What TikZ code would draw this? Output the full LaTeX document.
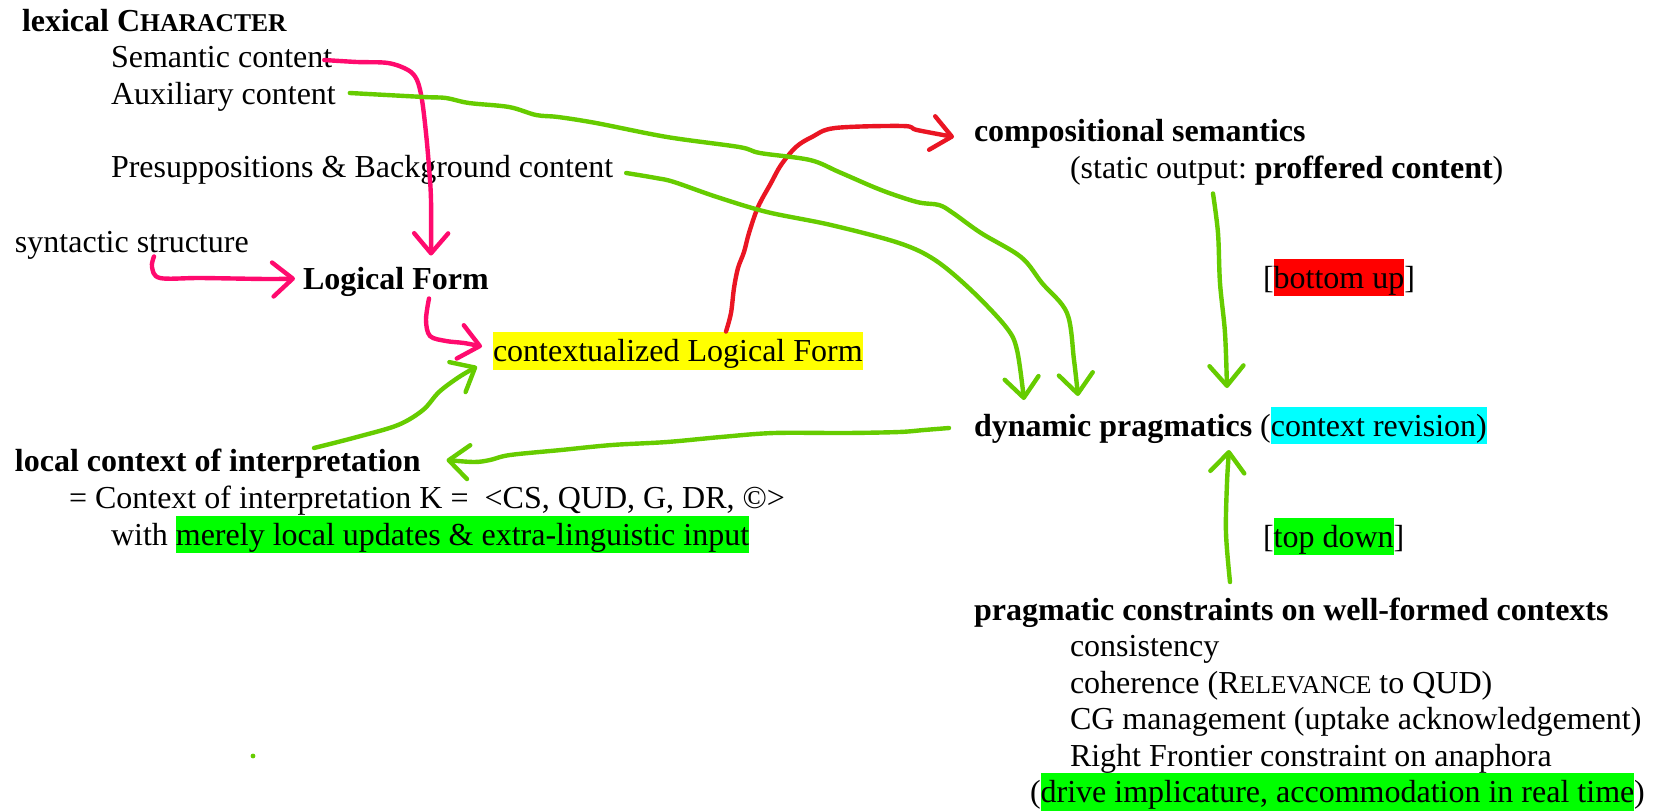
\documentclass[tikz,border=0pt]{standalone}
\usepackage{fontspec}
\setmainfont{Liberation Serif}
\usetikzlibrary{arrows.meta}
\definecolor{pinkc}{HTML}{FF0A6E}
\definecolor{redc}{HTML}{EA1523}
\definecolor{grnc}{HTML}{66CC00}
\definecolor{hlyellow}{HTML}{FFFF00}
\definecolor{hlgreen}{HTML}{00FF00}
\definecolor{hlcyan}{HTML}{00FFFF}
\definecolor{hlred}{HTML}{FF0000}
\newcommand\hlbox[2]{{\setlength{\fboxsep}{0pt}\colorbox{#1}{\rule[-0.25em]{0pt}{1.17em}#2}}}
\newcommand\smc[1]{{\fontsize{12.8pt}{14pt}\selectfont #1}}
\frenchspacing
\begin{document}
\begin{tikzpicture}[x=0.5pt,y=-0.5pt,
  lbl/.style={inner sep=0pt,outer sep=0pt,anchor=base west,font=\fontsize{16pt}{18.4pt}\selectfont},
  bld/.style={lbl,font=\fontsize{16pt}{18.4pt}\selectfont\bfseries},
  conn/.style={line width=2.2pt,line cap=round,line join=round,-{Straight Barb[length=10pt,width=17pt,round]}},
  pinkline/.style={conn,draw=pinkc},
  redline/.style={conn,draw=redc},
  grnline/.style={conn,draw=grnc}]
\fill[white] (0,0) rectangle (1656,810);
\useasboundingbox (0,0) rectangle (1656,810);

% left column
\node[bld] (lex) at (22,31) {lexical C\smc{HARACTER}};
\node[lbl] (sem) at (111,67) {Semantic content};
\node[lbl] (aux) at (111,104) {Auxiliary content};
\node[lbl] (pre) at (111,177) {Presuppositions \& Background content};
\node[lbl] (syn) at (15,252.5) {syntactic structure};
\node[bld] (lf) at (303,289.5) {Logical Form};
\node[lbl] (clf) at (493,361.5) {\hlbox{hlyellow}{contextualized Logical Form}};
\node[bld] (loc) at (15,471) {local context of interpretation};
\node[lbl] (ctx) at (69,508) {= Context of interpretation K =~ <CS, QUD, G, DR, ©>};
\node[lbl] (wth) at (111,545) {with \hlbox{hlgreen}{merely local updates \& extra-linguistic input}};

% right column
\node[bld] (comp) at (974,141) {compositional semantics};
\node[lbl] (stat) at (1070,178.5) {(static output: \textbf{proffered content})};
\node[lbl] (bu) at (1263,288) {[\hlbox{hlred}{bottom up}]};
\node[lbl] (dyn) at (974,436) {\textbf{dynamic pragmatics} (\hlbox{hlcyan}{context revision)}};
\node[lbl] (td) at (1263,547) {[\hlbox{hlgreen}{top down}]};
\node[bld] (prag) at (974,620) {pragmatic constraints on well-formed contexts};
\node[lbl] (c1) at (1070,656.5) {consistency};
\node[lbl] (c2) at (1070,693) {coherence (R\smc{ELEVANCE} to QUD)};
\node[lbl] (c3) at (1070,729.5) {CG management (uptake acknowledgement)};
\node[lbl] (c4) at (1070,766) {Right Frontier constraint on anaphora};
\node[lbl] (c5) at (1030,802.5) {(\hlbox{hlgreen}{drive implicature, accommodation in real time})};

% connectors
\draw[pinkline] plot[smooth,tension=.55] coordinates {([shift={(-8,-7)}]sem.base east) (357,62) (388,63) (408,70) (417,80) (422,100) (426,133) (429,167) (431,200) ([shift={(128,-34)}]lf.base west)};
\draw[pinkline] plot[smooth,tension=.55] coordinates {([shift={(139,4)}]syn.base west) (152,267) (160,278) (201,278) (268,279) ([shift={(-8,-11)}]lf.base west)};
\draw[pinkline] plot[smooth,tension=.55] coordinates {([shift={(126,9)}]lf.base west) (426,320) (430,336) (446,341) (464,343) ([shift={(-11,-15)}]clf.base west)};
\draw[grnline] plot[smooth,tension=.55] coordinates {([shift={(299,-23)}]loc.base west) (357,437) (398,425) (423,410) (439,392) (459,377) ([shift={(-16,5)}]clf.base west)};
\draw[redline] plot[smooth,tension=.55] coordinates {([shift={(233,-30)}]clf.base west) (731,313) (734,288) (738,268) (744,252) (749,233) (758,207) (771,183) (781,165) (796,147) (812,137) (835,128) (903,126) (917,130) ([shift={(-20,-4)}]comp.base west)};
\draw[grnline] plot[smooth,tension=.55] coordinates {([shift={(14,-11)}]aux.base east) (424,97) (446,98) (469,103) (509,107) (536,115) (558,117) (596,123) (667,137) (739,147) (760,153) (810,160) (839,172) (881,190) (917,202) (939,205) (953,213) (981,233) (1021,257) (1042,283) (1067,313) (1074,360) ([shift={(104,-40)}]dyn.base west)};
\draw[grnline] plot[smooth,tension=.55] coordinates {([shift={(13,-4)}]pre.base east) (656,178) (674,182) (717,197) (767,212) (831,225) (899,243) (935,260) (971,290) (1006,327) (1017,350) ([shift={(50,-36)}]dyn.base west)};
\draw[grnline] plot[smooth,tension=.55] coordinates {([shift={(143,15)}]stat.base west) (1218,233) (1220,283) (1225,333) ([shift={(253,-48)}]dyn.base west)};
\draw[grnline] plot[smooth,tension=.55] coordinates {([shift={(256,-38)}]prag.base west) (1226,533) (1227,483) ([shift={(255,14)}]dyn.base west)};
\draw[grnline] plot[smooth,tension=.55] coordinates {([shift={(-25,-8)}]dyn.base west) (924,430) (899,432) (846,433) (774,433) (721,437) (667,442) (612,445) (561,450) (510,455) (490,460) (474,462) ([shift={(26,-11)}]loc.base east)};

% stray dot
\fill[grnc] (253,756) circle (1.2pt);
\end{tikzpicture}
\end{document}
